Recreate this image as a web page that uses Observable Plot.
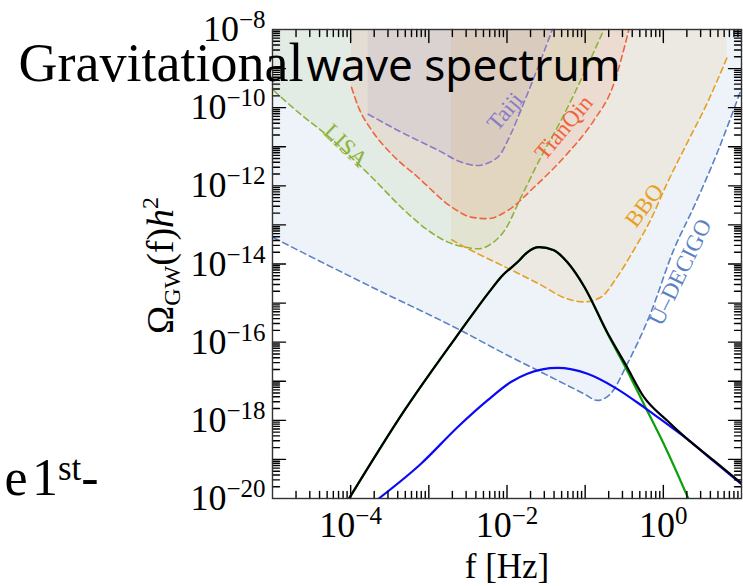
<!DOCTYPE html>
<html><head><meta charset="utf-8">
<script src="https://cdn.jsdelivr.net/npm/d3@7"></script>
<script src="https://cdn.jsdelivr.net/npm/@observablehq/plot@0.6"></script>
<style>
body{margin:0;background:#fff;}
#chart{width:743px;height:586px;overflow:hidden;}
</style></head><body><div id="chart"></div>
<script>
// ---- values: log10(f / Hz) and log10(Omega_GW h^2) ----
const udecigoLogF = [-4.985,-4.67,-3.73,-2.63,-1.95,-1.44,-1.015,-0.845,-0.675,-0.46,-0.165,0.13,0.39,0.684,1.0];
const udecigoLogO = [-13.33,-13.65,-14.59,-15.66,-16.38,-16.89,-17.32,-17.49,-17.32,-16.55,-15.27,-13.65,-12.54,-11.18,-9.51];
const lisaLogF = [-4.985,-4.646,-4.348,-3.73,-3.31,-3.01,-2.755,-2.54,-2.37,-2.20,-2.03,-1.82,-1.567,-1.31,-1.057,-0.76];
const lisaLogO = [-9.56,-10.16,-10.63,-11.78,-12.63,-13.14,-13.44,-13.57,-13.61,-13.48,-13.14,-12.29,-11.27,-10.33,-9.30,-8.0];
const tianqinLogF = [-3.99,-3.90,-3.73,-3.48,-3.14,-2.71,-2.46,-2.25,-1.99,-1.65,-1.23,-0.89,-0.65,-0.44];
const tianqinLogO = [-9.48,-9.99,-10.58,-11.18,-11.78,-12.54,-12.80,-12.84,-12.63,-12.03,-11.18,-10.33,-9.48,-8.0];
const taijiLogF = [-3.775,-3.31,-2.88,-2.59,-2.39,-2.12,-1.95,-1.80,-1.61,-1.42];
const taijiLogO = [-10.17,-10.67,-11.09,-11.39,-11.48,-11.27,-10.67,-9.95,-9.0,-8.0];
const bboLogF = [-2.71,-2.46,-2.02,-1.60,-1.23,-1.015,-0.80,-0.59,-0.38,-0.165,0.045,0.30,0.557,0.815];
const bboLogO = [-13.38,-13.65,-14.08,-14.50,-14.89,-14.97,-14.85,-14.33,-13.65,-12.88,-11.95,-10.92,-9.90,-8.72];

const swLogF = [-4.02,-3.31,-2.59,-2.23,-2.076,-1.864,-1.74,-1.59,-1.40,-1.23,-1.006,-0.72,-0.48,-0.25,0.045,0.32];
const swLogO = [-20.0,-17.74,-15.70,-14.72,-14.33,-13.95,-13.70,-13.57,-13.65,-13.95,-14.60,-15.76,-16.66,-17.58,-18.77,-20.0];
const turbLogF = [-3.64,-3.10,-2.63,-2.25,-1.95,-1.74,-1.355,-0.97,-0.63,-0.25,0.045,0.30,0.64,1.0];
const turbLogO = [-20.0,-19.11,-18.17,-17.49,-17.02,-16.81,-16.66,-16.81,-17.15,-17.66,-18.09,-18.47,-19.04,-19.63];
const totLogF = [-4.02,-3.31,-2.59,-2.23,-2.076,-1.864,-1.74,-1.59,-1.40,-1.23,-1.006,-0.72,-0.48,-0.25,0.045,0.30,0.64,1.0];
const totLogO = [-20.0,-17.74,-15.70,-14.72,-14.33,-13.95,-13.70,-13.57,-13.65,-13.95,-14.60,-15.74,-16.58,-17.40,-18.0,-18.47,-19.02,-19.61];

const detectorNames = ["U–DECIGO","LISA","TianQin","Taiji","BBO"];
const labelLogF = [0.217,-4.064,-1.274,-2.025,-0.242];
const labelLogO = [-14.21,-10.97,-10.51,-10.10,-12.50];
const labelAngle = [-64,44,-50,-50,-53];

const xLabelExps = [-4,-2,0];
const yLabelExps = [-20,-18,-16,-14,-12,-10,-8];
const xDecades = [-5,-4,-3,-2,-1,0,1];
const yDecades = d3.range(-20,-7);

const titleText = "Gravitational wave spectrum";
const sideText = "e 1^st-";
const yLabelText = "OMEGA_LABEL";
const xLabelText = "f [Hz]";

// ---- build ----
const W = 743, H = 586, mL = 272, mR = 2, mT = 29, mB = 88;
const FW = W - mL - mR, FH = H - mT - mB;
const X0 = 1e-5, X1 = 10, Y0 = 1e-20, Y1 = 1e-8;
const xDec = Math.log10(X1 / X0), yDec = Math.log10(Y1 / Y0);
const rows = (F, O) => F.map((f, i) => ({f: 10 ** f, o: 10 ** O[i]}));
const colors = ["#5a82c3","#8cb43a","#f0643c","#8c7ac8","#e6a020"];
const detectors = [
  rows(udecigoLogF, udecigoLogO), rows(lisaLogF, lisaLogO), rows(tianqinLogF, tianqinLogO),
  rows(taijiLogF, taijiLogO), rows(bboLogF, bboLogO)
];
const labels = detectorNames.map((n, i) => ({n, f: 10 ** labelLogF[i], o: 10 ** labelLogO[i], a: labelAngle[i], c: colors[i]}));
const xMajor = xDecades.slice(1, -1).map(e => 10 ** e);
const yMajor = yDecades.slice(1, -1).map(e => 10 ** e);
const xMinor = xDecades.slice(0, -1).flatMap(e => d3.range(2, 10).map(m => m * 10 ** e));
const yMinor = yDecades.slice(0, -1).flatMap(e => d3.range(2, 10).map(m => m * 10 ** e));
const tc = "#000";

// inward tick segments on all four sides (length given in pixels, converted through the log scales)
const tickSegs = [];
let id = 0;
for (const [data, len] of [[xMajor, 13], [xMinor, 7]]) {
  const k = 10 ** (len / FH * yDec);
  for (const v of data) {
    tickSegs.push({id, x: v, y: Y0}, {id: id++, x: v, y: Y0 * k});
    tickSegs.push({id, x: v, y: Y1}, {id: id++, x: v, y: Y1 / k});
  }
}
for (const [data, len] of [[yMajor, 13], [yMinor, 7]]) {
  const k = 10 ** (len / FW * xDec);
  for (const v of data) {
    tickSegs.push({id, x: X0, y: v}, {id: id++, x: X0 * k, y: v});
    tickSegs.push({id, x: X1, y: v}, {id: id++, x: X1 / k, y: v});
  }
}

const svg = Plot.plot({
  width: W, height: H,
  marginLeft: mL, marginRight: mR, marginTop: mT, marginBottom: mB,
  style: {fontFamily: "'Liberation Serif','Times New Roman',serif", background: "#fff", color: "#000"},
  x: {type: "log", domain: [X0, X1]},
  y: {type: "log", domain: [Y0, Y1]},
  marks: [
    ...detectors.map((d, i) => Plot.areaY(d, {x: "f", y1: "o", y2: Y1, fill: colors[i], fillOpacity: 0.1, curve: "monotone-x"})),
    ...detectors.map((d, i) => Plot.line(d, {x: "f", y: "o", stroke: colors[i], strokeWidth: 1.6, strokeDasharray: "6,4", curve: "monotone-x"})),
    Plot.line(rows(swLogF, swLogO), {x: "f", y: "o", stroke: "#0aa00a", strokeWidth: 2.2, curve: "monotone-x", clip: true}),
    Plot.line(rows(turbLogF, turbLogO), {x: "f", y: "o", stroke: "#0a0af5", strokeWidth: 2.2, curve: "monotone-x", clip: true}),
    Plot.line(rows(totLogF, totLogO), {x: "f", y: "o", stroke: "#000", strokeWidth: 2.2, curve: "monotone-x", clip: true}),
    Plot.text(labels, {x: "f", y: "o", text: "n", rotate: "a", fill: "c", fontSize: 23, textAnchor: "middle", lineAnchor: "middle"}),
    Plot.line(tickSegs, {x: "x", y: "y", z: "id", stroke: tc, strokeWidth: 1.4, strokeOpacity: 1}),
    Plot.frame({stroke: "#333", strokeWidth: 1.4}),
    Plot.axisX({ticks: xLabelExps.map(e => 10 ** e), anchor: "bottom", tickSize: 0, tickPadding: 13, fontSize: 36, label: null,
      tickFormat: d => "10^" + Math.round(Math.log10(d))}),
    Plot.axisY({ticks: yLabelExps.map(e => 10 ** e), anchor: "left", tickSize: 0, tickPadding: 7, fontSize: 36, label: null,
      tickFormat: d => "10^" + Math.round(Math.log10(d))}),
    Plot.text([xLabelText], {frameAnchor: "bottom", dy: 67.8, fontSize: 35, textAnchor: "middle", lineAnchor: "middle"}),
    Plot.text([yLabelText], {frameAnchor: "left", dx: -112, dy: 1.5, rotate: -90, fontSize: 38, textAnchor: "middle", lineAnchor: "middle"}),
    Plot.text([titleText], {frameAnchor: "top-left", dx: -254, dy: 34, fontSize: 54, textAnchor: "start", lineAnchor: "middle"}),
    Plot.text([sideText], {frameAnchor: "bottom-left", dx: -268, dy: -20.6, fontSize: 52, textAnchor: "start", lineAnchor: "middle"})
  ]
});

// ---- typographic post-processing (superscripts / subscripts / mixed fonts) ----
d3.select(svg).selectAll("text").each(function() {
  const s = this.textContent;
  const el = d3.select(this);
  const m = /^10\^(-?\d+)$/.exec(s);
  if (m) {
    el.text("10");
    el.append("tspan").attr("font-size", 25).attr("dy", -13).text(m[1].replace("-", "\u2212"));
  } else if (s === yLabelText) {
    el.text("");
    el.append("tspan").text("\u03A9");
    el.append("tspan").attr("font-size", 24).attr("dy", 7).text("GW");
    el.append("tspan").attr("dy", -7).text("(f)");
    el.append("tspan").attr("font-style", "italic").text("h");
    el.append("tspan").attr("font-size", 24).attr("dy", -15).text("2");
  } else if (s === titleText) {
    el.text("");
    el.append("tspan").text("Gravitational");
    el.append("tspan").attr("font-size", 12).text(" ");
    el.append("tspan").attr("font-family", "'Noto Sans',sans-serif").attr("font-size", 44).text("wave spectrum");
  } else if (s === sideText) {
    el.text("");
    el.append("tspan").text("e\u200A1");
    el.append("tspan").attr("font-size", 35).attr("dy", -15).text("st");
    el.append("tspan").attr("dy", 15).text("-");
  }
});
document.getElementById("chart").appendChild(svg);
</script>
</body></html>
